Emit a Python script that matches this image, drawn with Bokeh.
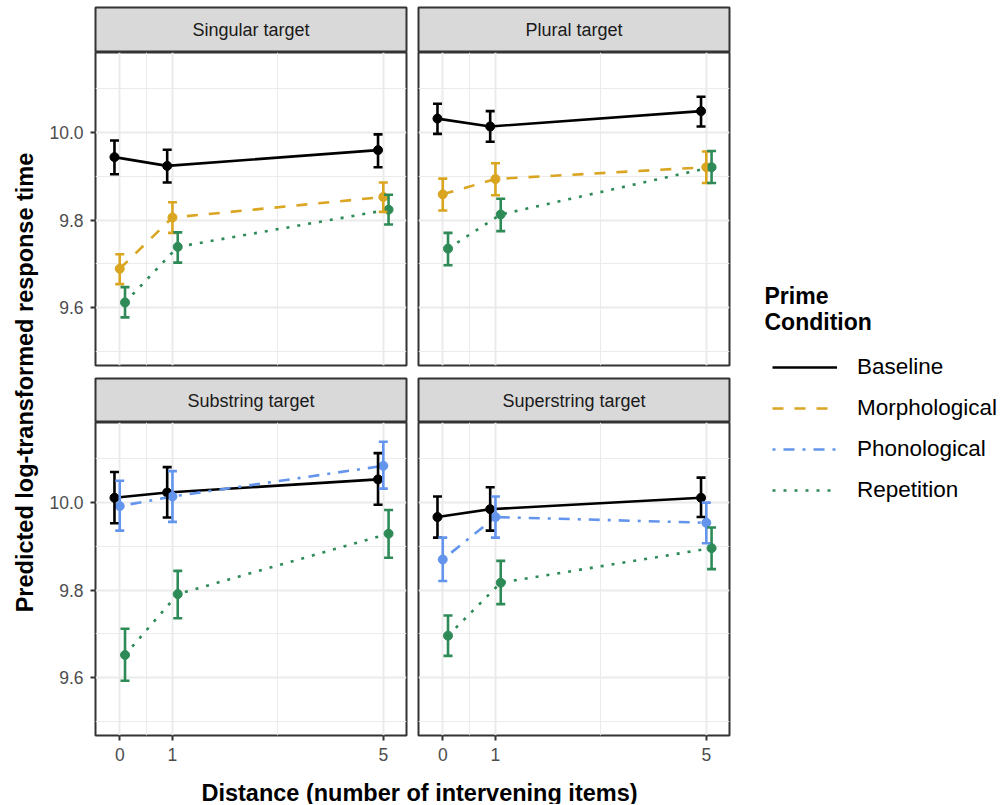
from math import pi
from bokeh.plotting import figure
from bokeh.layouts import row, column
from bokeh.models import (ColumnDataSource, Range1d, FixedTicker, Grid, Whisker, TeeHead,
                          PrintfTickFormatter, Legend, LegendItem, Label)
from bokeh.transform import dodge
from bokeh.embed import file_html
from bokeh.resources import INLINE

# ---------------- data ----------------
distance = [0, 1, 5]
x_minor = [0.5, 3]
y_major = [9.6, 9.8, 10.0]
y_minor = [9.5, 9.7, 9.9, 10.1]

facets = ["Singular target", "Plural target", "Substring target", "Superstring target"]
conditions = ["Baseline", "Morphological", "Phonological", "Repetition"]

sing_base = [9.944, 9.924, 9.960]
sing_base_lo = [9.905, 9.886, 9.921]
sing_base_hi = [9.982, 9.961, 9.996]
sing_morph = [9.689, 9.806, 9.853]
sing_morph_lo = [9.654, 9.771, 9.819]
sing_morph_hi = [9.722, 9.841, 9.886]
sing_rep = [9.612, 9.739, 9.824]
sing_rep_lo = [9.578, 9.703, 9.790]
sing_rep_hi = [9.647, 9.772, 9.858]

plur_base = [10.032, 10.014, 10.049]
plur_base_lo = [9.997, 9.979, 10.014]
plur_base_hi = [10.066, 10.049, 10.082]
plur_morph = [9.859, 9.894, 9.921]
plur_morph_lo = [9.822, 9.857, 9.885]
plur_morph_hi = [9.895, 9.930, 9.957]
plur_rep = [9.735, 9.813, 9.921]
plur_rep_lo = [9.697, 9.775, 9.885]
plur_rep_hi = [9.771, 9.849, 9.958]

sub_base = [10.011, 10.023, 10.053]
sub_base_lo = [9.953, 9.966, 9.995]
sub_base_hi = [10.070, 10.081, 10.113]
sub_phon = [9.992, 10.014, 10.084]
sub_phon_lo = [9.936, 9.956, 10.032]
sub_phon_hi = [10.050, 10.072, 10.139]
sub_rep = [9.652, 9.791, 9.929]
sub_rep_lo = [9.593, 9.736, 9.874]
sub_rep_hi = [9.712, 9.844, 9.983]

sup_base = [9.967, 9.985, 10.011]
sup_base_lo = [9.920, 9.936, 9.967]
sup_base_hi = [10.014, 10.035, 10.057]
sup_phon = [9.870, 9.967, 9.954]
sup_phon_lo = [9.821, 9.920, 9.907]
sup_phon_hi = [9.920, 10.014, 10.000]
sup_rep = [9.696, 9.817, 9.896]
sup_rep_lo = [9.650, 9.768, 9.848]
sup_rep_hi = [9.742, 9.867, 9.943]

# ---------------- styles ----------------
FONT = "Liberation Sans"
COLORS = {"Baseline": "#000000", "Morphological": "#DAA520",
          "Phonological": "#6495ED", "Repetition": "#2E8B57"}
DASHES = {"Baseline": "solid", "Morphological": "11 11",
          "Phonological": "3 8 11 8", "Repetition": "3 8"}
OFFSETS = [-0.1, 0.0, 0.1]
LW = 2.6

facet_data = [
    [("Baseline", sing_base, sing_base_lo, sing_base_hi),
     ("Morphological", sing_morph, sing_morph_lo, sing_morph_hi),
     ("Repetition", sing_rep, sing_rep_lo, sing_rep_hi)],
    [("Baseline", plur_base, plur_base_lo, plur_base_hi),
     ("Morphological", plur_morph, plur_morph_lo, plur_morph_hi),
     ("Repetition", plur_rep, plur_rep_lo, plur_rep_hi)],
    [("Baseline", sub_base, sub_base_lo, sub_base_hi),
     ("Phonological", sub_phon, sub_phon_lo, sub_phon_hi),
     ("Repetition", sub_rep, sub_rep_lo, sub_rep_hi)],
    [("Baseline", sup_base, sup_base_lo, sup_base_hi),
     ("Phonological", sup_phon, sup_phon_lo, sup_phon_hi),
     ("Repetition", sup_rep, sup_rep_lo, sup_rep_hi)],
]

XR = (-0.46, 5.44)
YR = (9.468, 10.183)
FRAME_W = 311
FRAME_H = 313
YLAB_W = 44
LEFT_W = 51 + FRAME_W + 6   # left column figures
RIGHT_W = 6 + FRAME_W + 6   # right column figures
XLAB_H = 34
TOTAL_H = (7 + 45) + (FRAME_H + 7) + (6 + 44) + (FRAME_H + 35) + XLAB_H
LEG_W = 1000 - YLAB_W - LEFT_W - RIGHT_W


def blank_fig(width, height, **kw):
    p = figure(width=width, height=height, x_range=Range1d(0, 1), y_range=Range1d(0, 1),
               x_axis_location=None, y_axis_location=None, toolbar_location=None,
               output_backend="svg", **kw)
    p.grid.visible = False
    return p


def make_strip(text, left, width, top, frame_h):
    p = blank_fig(width, top + frame_h, min_border_left=left, min_border_right=6,
                  min_border_top=top, min_border_bottom=0)
    p.background_fill_color = "#D9D9D9"
    p.outline_line_color = "#333333"
    p.outline_line_width = 2
    p.add_layout(Label(x=0.5, y=0.5, text=text, text_align="center", text_baseline="middle",
                       text_font=FONT, text_font_size="18px", text_color="#1A1A1A"))
    return p


def make_panel(idx, show_x, show_y):
    left = 51 if show_y else 6
    width = LEFT_W if show_y else RIGHT_W
    bottom = 35 if show_x else 7
    p = figure(width=width, height=FRAME_H + bottom,
               x_range=Range1d(*XR), y_range=Range1d(*YR),
               x_axis_location="below" if show_x else None,
               y_axis_location="left" if show_y else None,
               toolbar_location=None, output_backend="svg",
               min_border_left=left, min_border_right=6,
               min_border_top=0, min_border_bottom=bottom)
    p.grid.visible = False
    p.background_fill_color = "white"
    p.outline_line_color = "#333333"
    p.outline_line_width = 2
    xg = Grid(dimension=0, ticker=FixedTicker(ticks=distance, minor_ticks=x_minor))
    yg = Grid(dimension=1, ticker=FixedTicker(ticks=y_major, minor_ticks=y_minor))
    for g in (xg, yg):
        g.grid_line_color = "#EBEBEB"
        g.grid_line_width = 2
        g.minor_grid_line_color = "#EBEBEB"
        g.minor_grid_line_width = 1
        p.add_layout(g)
    axes = []
    if show_x:
        p.xaxis.ticker = FixedTicker(ticks=distance)
        axes += p.xaxis
    if show_y:
        p.yaxis.ticker = FixedTicker(ticks=y_major)
        p.yaxis.formatter = PrintfTickFormatter(format="%.1f")
        axes += p.yaxis
    for ax in axes:
        ax.axis_line_color = None
        ax.minor_tick_line_color = None
        ax.major_tick_in = 0
        ax.major_tick_out = 5
        ax.major_tick_line_color = "#333333"
        ax.major_tick_line_width = 2
        ax.major_label_text_font = FONT
        ax.major_label_text_font_size = "17.5px"
        ax.major_label_text_color = "#4D4D4D"
        ax.major_label_standoff = 7

    for off, (cond, mean, lo, hi) in zip(OFFSETS, facet_data[idx]):
        src = ColumnDataSource(dict(distance=distance, mean=mean, lower=lo, upper=hi))
        xs = dodge("distance", off, range=p.x_range)
        col = COLORS[cond]
        p.line(x=xs, y="mean", source=src, line_color=col, line_width=LW,
               line_dash=DASHES[cond])
        p.scatter(x=xs, y="mean", source=src, size=9, fill_color=col, line_color=col)
        w = Whisker(source=src, base=xs, upper="upper", lower="lower",
                    line_color=col, line_width=LW,
                    upper_head=TeeHead(size=9, line_color=col, line_width=LW),
                    lower_head=TeeHead(size=9, line_color=col, line_width=LW))
        w.level = "glyph"
        p.add_layout(w)
    return p


strip_tl = make_strip(facets[0], 51, LEFT_W, 7, 45)
strip_tr = make_strip(facets[1], 6, RIGHT_W, 7, 45)
strip_bl = make_strip(facets[2], 51, LEFT_W, 6, 44)
strip_br = make_strip(facets[3], 6, RIGHT_W, 6, 44)

panel_tl = make_panel(0, False, True)
panel_tr = make_panel(1, False, False)
panel_bl = make_panel(2, True, True)
panel_br = make_panel(3, True, False)

# x-axis title
xlab = blank_fig(LEFT_W + RIGHT_W, XLAB_H, min_border=0)
xlab.outline_line_color = None
xlab.add_layout(Label(x=375, y=12, x_units="screen", y_units="screen",
                      text="Distance (number of intervening items)",
                      text_align="center", text_baseline="middle", text_font=FONT,
                      text_font_size="23.5px", text_font_style="bold", text_color="black"))

# y-axis title
ylab = blank_fig(YLAB_W, TOTAL_H, min_border=0)
ylab.outline_line_color = None
ylab.add_layout(Label(x=24, y=TOTAL_H - 382, x_units="screen", y_units="screen",
                      text="Predicted log-transformed response time", angle=pi / 2,
                      text_align="center", text_baseline="middle", text_font=FONT,
                      text_font_size="23.5px", text_font_style="bold", text_color="black"))

# legend
leg = blank_fig(LEG_W, TOTAL_H, min_border=0)
leg.outline_line_color = None
items = []
for cond in conditions:
    r = leg.line(x=[float("nan")], y=[float("nan")], line_color=COLORS[cond],
                 line_width=LW, line_dash=DASHES[cond])
    items.append(LegendItem(label=cond, renderers=[r]))
legend = Legend(items=items, location=(37, 301), glyph_width=65, glyph_height=24,
                label_height=24, label_standoff=20, spacing=15, padding=0, margin=0,
                label_text_font=FONT, label_text_font_size="22.5px", label_text_color="black",
                border_line_color=None, background_fill_alpha=0)
leg.add_layout(legend)
leg.add_layout(Label(x=29, y=TOTAL_H - 295, x_units="screen", y_units="screen", text="Prime",
                     text_baseline="alphabetic", text_font=FONT, text_font_size="23px",
                     text_font_style="bold", text_color="black"))
leg.add_layout(Label(x=29, y=TOTAL_H - 321, x_units="screen", y_units="screen", text="Condition",
                     text_baseline="alphabetic", text_font=FONT, text_font_size="23px",
                     text_font_style="bold", text_color="black"))

center = column(row(strip_tl, strip_tr), row(panel_tl, panel_tr),
                row(strip_bl, strip_br), row(panel_bl, panel_br), xlab)
layout = row(ylab, center, leg)

open("out.html", "w").write(file_html(layout, INLINE))
